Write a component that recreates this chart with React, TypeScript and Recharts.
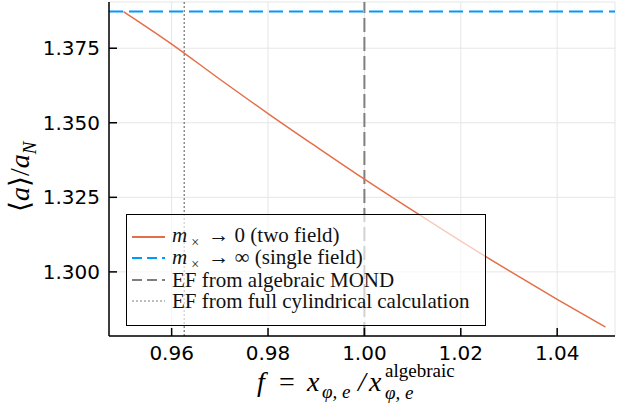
import React from 'react';
import {
  LineChart,
  Line,
  XAxis,
  YAxis,
  CartesianGrid,
  ReferenceLine,
} from 'recharts';

// f values and <a>/a_N for the two-field limit (m_x -> 0)
const fValues = [0.95, 0.96, 0.97, 0.98, 0.99, 1.0, 1.01, 1.02, 1.03, 1.04, 1.05];
const twoField = [1.3873, 1.3764, 1.3646, 1.3531, 1.342, 1.3311, 1.3206, 1.3103, 1.3004, 1.2908, 1.2815];
// single-field limit (m_x -> inf) is flat
const singleField = 1.3873;
// external field estimates
const efAlgebraic = 1.0;
const efCylindrical = 0.9626;

const xTicks = [0.96, 0.98, 1.0, 1.02, 1.04];
const yTicks = [1.3, 1.325, 1.35, 1.375];

const data = fValues.map((f, i) => ({ f, a: twoField[i] }));

const ORANGE = '#e36f47';
const BLUE = '#009afa';
const GRAY = '#7f7f7f';
const TICK_FONT = '"DejaVu Sans", sans-serif';
const MATH_FONT = '"Liberation Serif", serif';

const XTick = (props: any) => {
  const { x, y, payload } = props;
  return (
    <g>
      <line x1={x} x2={x} y1={y} y2={y - 8} stroke="#000" strokeWidth={1.5} />
      <text x={x} y={y + 24} textAnchor="middle" fontSize={20} fontFamily={TICK_FONT} fill="#000">
        {payload.value.toFixed(2)}
      </text>
    </g>
  );
};

const YTick = (props: any) => {
  const { x, y, payload } = props;
  return (
    <g>
      <line x1={x} x2={x + 8} y1={y} y2={y} stroke="#000" strokeWidth={1.5} />
      <text x={x - 9} y={y + 7} textAnchor="end" fontSize={20} fontFamily={TICK_FONT} fill="#000">
        {payload.value.toFixed(3)}
      </text>
    </g>
  );
};

const Sample = ({ color, dash, width }: { color: string; dash?: string; width: number }) => (
  <svg width={33} height={10} style={{ marginRight: 7, flex: 'none' }}>
    <line x1={0} x2={33} y1={5} y2={5} stroke={color} strokeWidth={width} strokeDasharray={dash} />
  </svg>
);

const legendRows = [
  {
    color: ORANGE,
    width: 2,
    dash: undefined,
    label: (
      <>
        <i>m</i>
        <sub style={{ fontSize: 14, marginLeft: 4, marginRight: 4, lineHeight: '10px' }}>×</sub>&nbsp;→ 0 (two field)
      </>
    ),
  },
  {
    color: BLUE,
    width: 2,
    dash: '10 5',
    label: (
      <>
        <i>m</i>
        <sub style={{ fontSize: 14, marginLeft: 4, marginRight: 4, lineHeight: '10px' }}>×</sub>&nbsp;→ ∞ (single field)
      </>
    ),
  },
  { color: GRAY, width: 2, dash: '10 5', label: <>EF from algebraic MOND</> },
  { color: GRAY, width: 1, dash: '2 2', label: <>EF from full cylindrical calculation</> },
];

const LegendBox = () => (
  <div
    style={{
      position: 'absolute',
      left: 126,
      top: 214,
      width: 360,
      height: 112,
      background: 'rgba(255,255,255,0.65)',
      border: '1.5px solid #000',
      padding: '11px 6px 6px 5px',
      boxSizing: 'border-box',
      fontFamily: MATH_FONT,
      fontSize: 21,
      color: '#111',
    }}
  >
    {legendRows.map((r, i) => (
      <div key={i} style={{ display: 'flex', alignItems: 'center', height: 21.5, whiteSpace: 'nowrap' }}>
        <Sample color={r.color} dash={r.dash} width={r.width} />
        <span style={{ lineHeight: '20px' }}>{r.label}</span>
      </div>
    ))}
  </div>
);

export default function App() {
  return (
    <div style={{ position: 'absolute', left: 0, top: 0, width: 617, height: 409, background: '#fff' }}>
      <LineChart width={617} height={409} data={data} margin={{ top: 2, right: 2, left: 0, bottom: 0 }}>
        <CartesianGrid stroke="#e6e6e6" strokeWidth={1} />
        <XAxis
          dataKey="f"
          type="number"
          domain={[0.947, 1.052]}
          ticks={xTicks}
          height={73}
          tickSize={0}
          tickMargin={0}
          tick={<XTick />}
          axisLine={{ stroke: '#000', strokeWidth: 1.5 }}
          tickLine={false}
          allowDataOverflow
        />
        <YAxis
          type="number"
          domain={[1.2785, 1.3905]}
          ticks={yTicks}
          width={109}
          tickSize={0}
          tickMargin={0}
          tick={<YTick />}
          axisLine={{ stroke: '#000', strokeWidth: 1.5 }}
          tickLine={false}
          allowDataOverflow
        />
        <ReferenceLine x={efCylindrical} stroke="#555" strokeWidth={1} strokeDasharray="2 2" />
        <ReferenceLine x={efAlgebraic} stroke={GRAY} strokeWidth={2} strokeDasharray="14 5" />
        <ReferenceLine y={singleField} stroke={BLUE} strokeWidth={2} strokeDasharray="14 6" />
        <Line
          dataKey="a"
          type="monotone"
          stroke={ORANGE}
          strokeWidth={1.5}
          dot={false}
          isAnimationActive={false}
        />
      </LineChart>
      <LegendBox />
      <svg
        width={617}
        height={409}
        style={{ position: 'absolute', left: 0, top: 0, pointerEvents: 'none' }}
        fontFamily={MATH_FONT}
      >
        <g fontSize={28} fill="#000">
          <text x={257} y={391} fontStyle="italic">f</text>
          <text x={279} y={391}>=</text>
          <text x={307} y={391} fontStyle="italic">x</text>
          <text x={322} y={398} fontSize={19} fontStyle="italic">φ, e</text>
          <text x={358} y={391} fontStyle="italic">/</text>
          <text x={369} y={391} fontStyle="italic">x</text>
          <text x={385} y={377} fontSize={19}>algebraic</text>
          <text x={385} y={399} fontSize={19} fontStyle="italic">φ, e</text>
        </g>
        <g transform="translate(29,212) rotate(-90)" fontSize={28} fill="#000">
          <text x={0} y={0}>
            ⟨<tspan fontStyle="italic">a</tspan>⟩/<tspan fontStyle="italic">a</tspan>
            <tspan fontSize={19} fontStyle="italic" dy={7}>N</tspan>
          </text>
        </g>
      </svg>
    </div>
  );
}
